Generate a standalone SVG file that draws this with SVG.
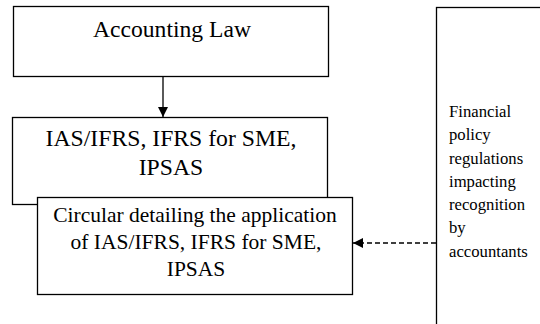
<svg xmlns="http://www.w3.org/2000/svg" width="540" height="324" viewBox="0 0 540 324">
  <defs>
    <style>
      .box { fill: #ffffff; stroke: #000000; stroke-width: 1.3; }
      .link { stroke: #000000; stroke-width: 1.3; fill: none; }
      .dash { stroke-dasharray: 5 3; }
    </style>
    <marker id="head" viewBox="0 0 10 10" refX="10" refY="5" markerWidth="10" markerHeight="10" markerUnits="userSpaceOnUse" orient="auto">
      <path d="M0,0 L10,5 L0,10 Z" fill="#000000"/>
    </marker>
  </defs>

  <rect width="540" height="324" fill="#ffffff"/>

  <g id="accounting-law">
    <rect class="box" x="13.5" y="6.5" width="315" height="70"/>
    <text font-family="Liberation Serif" font-size="23.6" text-anchor="middle" x="172" y="37">Accounting Law</text>
  </g>

  <g id="standards">
    <rect class="box" x="12.5" y="117.5" width="315" height="87"/>
    <text font-family="Liberation Serif" font-size="23.7" text-anchor="middle" x="171" y="146">IAS/IFRS, IFRS for SME,</text>
    <text font-family="Liberation Serif" font-size="23.7" text-anchor="middle" x="171" y="175">IPSAS</text>
  </g>

  <g id="circular">
    <rect class="box" x="37.5" y="197.5" width="315" height="97"/>
    <text font-family="Liberation Serif" font-size="21.5" text-anchor="middle" x="195" y="222">Circular detailing the application</text>
    <text font-family="Liberation Serif" font-size="21.5" text-anchor="middle" x="196" y="249">of IAS/IFRS, IFRS for SME,</text>
    <text font-family="Liberation Serif" font-size="21.5" text-anchor="middle" x="196" y="276">IPSAS</text>
  </g>

  <g id="financial-policy">
    <rect class="box" x="436.5" y="7.5" width="120" height="330"/>
    <text font-family="Liberation Serif" font-size="16.7" x="449" y="117">Financial</text>
    <text font-family="Liberation Serif" font-size="16.7" x="449" y="140">policy</text>
    <text font-family="Liberation Serif" font-size="16.7" x="449" y="164">regulations</text>
    <text font-family="Liberation Serif" font-size="16.7" x="449" y="187">impacting</text>
    <text font-family="Liberation Serif" font-size="16.7" x="449" y="210">recognition</text>
    <text font-family="Liberation Serif" font-size="16.7" x="449" y="233">by</text>
    <text font-family="Liberation Serif" font-size="16.7" x="449" y="257">accountants</text>
  </g>

  <g id="connectors">
    <line class="link" x1="163" y1="77" x2="163" y2="117" marker-end="url(#head)"/>
    <line class="link dash" x1="436" y1="243" x2="353" y2="243" marker-end="url(#head)"/>
  </g>
</svg>
